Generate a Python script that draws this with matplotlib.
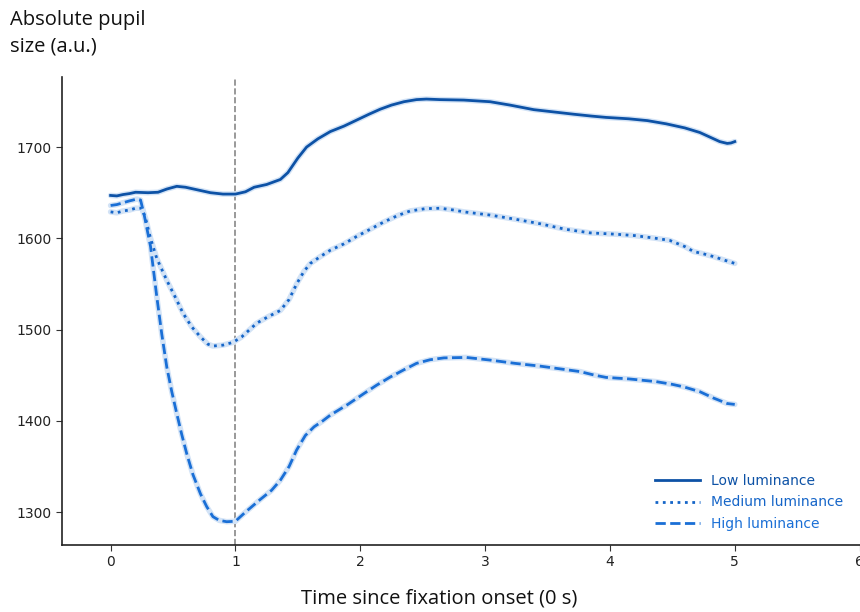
import matplotlib
matplotlib.use("Agg")
import matplotlib.pyplot as plt

# ---- data ----
t_low = [0.0, 0.05, 0.1, 0.15, 0.2, 0.3, 0.38, 0.45, 0.53, 0.6, 0.7, 0.8, 0.9, 1.0, 1.08, 1.15,
         1.25, 1.36, 1.42, 1.5, 1.57, 1.66, 1.76, 1.87, 1.97, 2.07, 2.16, 2.25, 2.35, 2.45, 2.53,
         2.64, 2.83, 3.04, 3.2, 3.39, 3.55, 3.71, 3.85, 3.97, 4.15, 4.3, 4.45, 4.6, 4.72, 4.8,
         4.88, 4.94, 4.97, 5.0]
v_low = [1647, 1646.5, 1648, 1649, 1650.5, 1650, 1650.5, 1654, 1657, 1656, 1653, 1650, 1648.5,
         1648.5, 1651, 1656, 1659, 1664.5, 1672, 1688, 1700, 1709, 1717, 1723, 1729.5, 1736,
         1741.5, 1746, 1749.7, 1752, 1752.6, 1752, 1751.5, 1749.7, 1746, 1741, 1738.5, 1736,
         1734, 1732.5, 1731, 1729, 1725.5, 1721, 1716, 1711, 1706, 1704, 1704.5, 1706]

t_med = [0.0, 0.05, 0.1, 0.15, 0.2, 0.25, 0.28, 0.32, 0.37, 0.45, 0.52, 0.58, 0.65, 0.72, 0.78,
         0.82, 0.9, 0.98, 1.05, 1.17, 1.26, 1.36, 1.43, 1.49, 1.55, 1.6, 1.68, 1.76, 1.87, 1.97,
         2.08, 2.19, 2.3, 2.4, 2.52, 2.64, 2.75, 2.83, 3.04, 3.24, 3.44, 3.64, 3.84, 4.05, 4.2,
         4.37, 4.48, 4.6, 4.67, 4.75, 4.83, 4.92, 5.0]
v_med = [1629, 1628, 1630, 1631, 1633, 1633, 1622, 1600, 1578, 1554, 1535, 1518, 1503, 1492,
         1484, 1482, 1483, 1486, 1492, 1507, 1514, 1521, 1533, 1550, 1564, 1572.5, 1580, 1587,
         1594, 1602, 1610, 1618, 1625, 1630, 1632.5, 1633, 1631, 1629, 1625.5, 1621, 1616, 1610,
         1606, 1604.5, 1603, 1600, 1597.7, 1591, 1585.6, 1583, 1580, 1576, 1572.5]

t_high = [0.0, 0.05, 0.1, 0.15, 0.21, 0.24, 0.27, 0.32, 0.37, 0.41, 0.45, 0.49, 0.53, 0.57, 0.61,
          0.66, 0.72, 0.77, 0.82, 0.87, 0.93, 1.0, 1.08, 1.2, 1.29, 1.36, 1.43, 1.49, 1.56, 1.63,
          1.7, 1.76, 1.9, 2.03, 2.13, 2.24, 2.35, 2.45, 2.56, 2.67, 2.85, 3.04, 3.24, 3.44, 3.6,
          3.76, 3.88, 3.97, 4.15, 4.37, 4.5, 4.59, 4.72, 4.83, 4.94, 5.0]
v_high = [1636, 1637, 1639, 1641, 1643, 1642, 1625, 1591, 1536, 1495, 1459, 1432, 1408, 1385,
          1364, 1341, 1320, 1306, 1295, 1291, 1289.5, 1290, 1300, 1314, 1324, 1335, 1350, 1368,
          1384, 1393.5, 1400, 1406.3, 1418, 1430, 1439, 1448, 1456, 1463, 1467, 1469, 1469.5,
          1466.6, 1463, 1460, 1457, 1454, 1450, 1447.6, 1446, 1443, 1440, 1437.3, 1432, 1425,
          1419, 1418]

labels = ["Low luminance", "Medium luminance", "High luminance"]
x_ticks = [0, 1, 2, 3, 4, 5, 6]
y_ticks = [1300, 1400, 1500, 1600, 1700]

colors = ["#0d52a6", "#1565c8", "#1a6fd6"]
styles = ["-", ":", "--"]

fig = plt.figure(figsize=(8.6, 6.12), dpi=100)
ax = fig.add_axes([0.072, 0.1095, 0.9275, 0.765])

band = "#d3e3f6"
for (t, v), c, ls, lab in zip([(t_low, v_low), (t_med, v_med), (t_high, v_high)],
                              colors, styles, labels):
    ax.plot(t, v, color=band, lw=4.0, solid_capstyle="round", zorder=2)
    ax.plot(t, v, color=c, lw=2.0, ls=ls, label=lab, zorder=3)

ax.axvline(1, color="#888888", lw=1.2, ls="--", zorder=1)

ax.set_xlim(-0.39, 6.0)
ax.set_ylim(1264, 1777)
ax.set_xticks(x_ticks)
ax.set_yticks(y_ticks)
ax.tick_params(labelsize=10, color="#333333", labelcolor="#222222", length=4)
for s in ["top", "right"]:
    ax.spines[s].set_visible(False)
for s in ["left", "bottom"]:
    ax.spines[s].set_linewidth(1.2)
    ax.spines[s].set_color("#222222")

fig.text(0.012, 0.984, "Absolute pupil\nsize (a.u.)", ha="left", va="top",
         fontsize=14.5, family="Open Sans", linespacing=1.45, color="#111111")
fig.text(0.511, 0.022, "Time since fixation onset (0 s)", ha="center", va="center",
         fontsize=14.5, family="Open Sans", color="#111111")

leg = ax.legend(loc="lower right", frameon=False, fontsize=10, handlelength=3.2,
                bbox_to_anchor=(0.995, 0.003), labelspacing=0.55)
for txt, c in zip(leg.get_texts(), colors):
    txt.set_color(c)

fig.savefig("out.png", dpi=100)
